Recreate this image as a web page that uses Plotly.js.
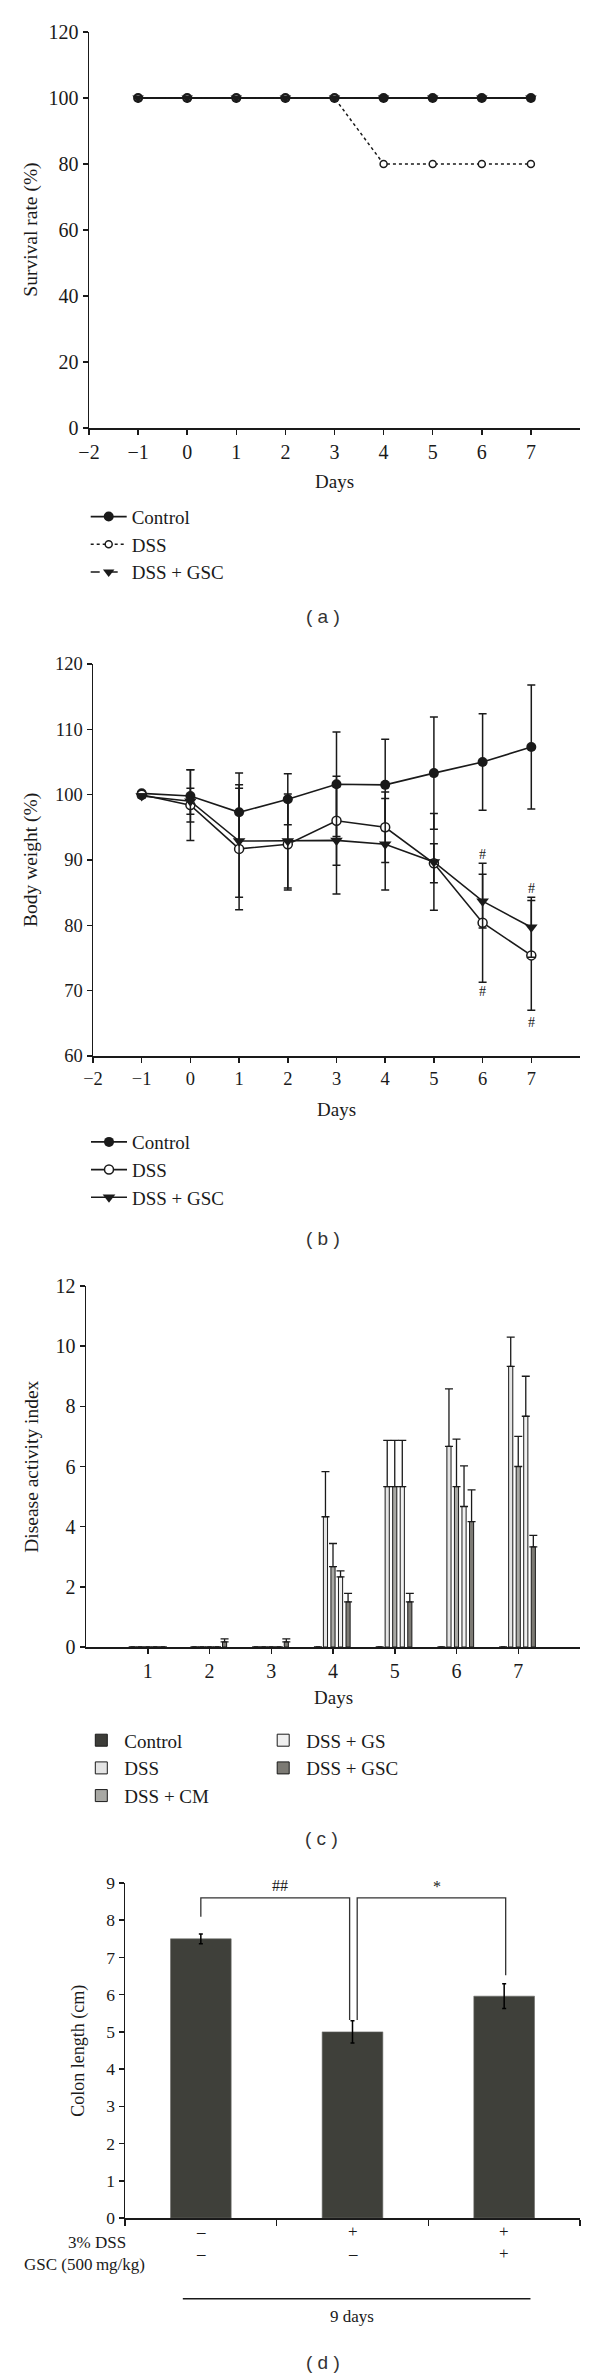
<!DOCTYPE html>
<html><head><meta charset="utf-8">
<script src="https://cdn.plot.ly/plotly-3.0.1.min.js"></script>
<style>
html,body{margin:0;padding:0;background:#fff;width:600px;height:2379px;overflow:hidden}
.p{position:absolute;left:0;width:600px}
</style></head><body>
<div id="pa" class="p" style="top:0;height:640px"></div>
<div id="pb" class="p" style="top:640px;height:620px"></div>
<div id="pc" class="p" style="top:1260px;height:600px"></div>
<div id="pd" class="p" style="top:1860px;height:519px"></div>
<script>
// ---------- DATA ----------
const days = [-1, 0, 1, 2, 3, 4, 5, 6, 7];
const dayTickVals = [-2, -1, 0, 1, 2, 3, 4, 5, 6, 7];
const dayTickText = ['\u22122', '\u22121', '0', '1', '2', '3', '4', '5', '6', '7'];

// (a) survival rate (%)
const survivalControl = [100, 100, 100, 100, 100, 100, 100, 100, 100];
const survivalDSS     = [100, 100, 100, 100, 100, 80, 80, 80, 80];
const survivalGSC     = [100, 100, 100, 100, 100, 100, 100, 100, 100];

// (b) body weight (%)
const weightControl   = [100.2, 99.8, 97.3, 99.3, 101.6, 101.5, 103.3, 105.0, 107.3];
const weightControlSD = [0.3, 4.0, 6.0, 3.9, 8.0, 7.0, 8.6, 7.4, 9.5];
const weightDSS       = [100.0, 98.4, 91.7, 92.4, 96.0, 95.0, 89.5, 80.4, 75.4];
const weightDSSSD     = [0.3, 5.4, 9.3, 7.0, 6.8, 5.4, 3.0, 9.1, 8.4];
const weightGSC       = [99.8, 99.0, 92.9, 92.9, 93.0, 92.4, 89.7, 83.7, 79.7];
const weightGSCSD     = [0.3, 2.0, 8.6, 7.2, 8.2, 7.0, 7.4, 4.1, 4.6];
const hashMarks = [{day: 6, y: 90.8}, {day: 6, y: 69.8}, {day: 7, y: 85.6}, {day: 7, y: 65.1}];

// (c) disease activity index
const daiDays = [1, 2, 3, 4, 5, 6, 7];
const daiControl    = [0, 0, 0, 0, 0, 0, 0];
const daiControlSD  = [0, 0, 0, 0, 0, 0, 0];
const daiDSS        = [0, 0, 0, 4.33, 5.33, 6.67, 9.33];
const daiDSSSD      = [0, 0, 0, 1.5, 1.54, 1.91, 0.97];
const daiCM         = [0, 0, 0, 2.67, 5.33, 5.33, 6.0];
const daiCMSD       = [0, 0, 0, 0.77, 1.54, 1.58, 1.0];
const daiGS         = [0, 0, 0, 2.33, 5.33, 4.67, 7.67];
const daiGSSD       = [0, 0, 0, 0.2, 1.54, 1.35, 1.33];
const daiGSC        = [0, 0.17, 0.17, 1.5, 1.5, 4.17, 3.33];
const daiGSCSD      = [0, 0.1, 0.1, 0.28, 0.28, 1.05, 0.38];

// (d) colon length (cm)
const colonGroups = ['Control', 'DSS', 'DSS + GSC'];
const colonLength = [7.5, 5.0, 5.96];
const colonSD     = [0.13, 0.3, 0.33];
const dssRow = ['\u2013', '+', '+'];
const gscRow = ['\u2013', '\u2013', '+'];

// ---------- STYLE ----------
const SERIF = '"Liberation Serif", "Times New Roman", serif';
const SANS = '"Liberation Sans", Arial, sans-serif';
const INK = '#1a1a1a';
const cfg = {staticPlot: true, displayModeBar: false};

function frame(H, m) {
  const pw = 600 - m.l - m.r, ph = H - m.t - m.b;
  return {X: p => (p - m.l) / pw, Y: p => 1 - (p - m.t) / ph};
}
function axis(extra) {
  return Object.assign({
    showline: true, linewidth: 1.5, linecolor: INK, mirror: false,
    ticks: 'outside', ticklen: 5, tickwidth: 1.5, tickcolor: INK,
    showgrid: false, zeroline: false, fixedrange: true,
    tickfont: {family: SERIF, size: 20, color: INK}
  }, extra);
}
function txt(text, x, y, opts) {
  return Object.assign({text: text, x: x, y: y, xref: 'paper', yref: 'paper',
    showarrow: false, xanchor: 'center', yanchor: 'middle',
    font: {family: SERIF, size: 19, color: INK}}, opts || {});
}
function legendBox(x, y, size) {
  return {x: x, y: y, xanchor: 'left', yanchor: 'top', xref: 'paper', yref: 'paper',
    bgcolor: 'rgba(0,0,0,0)', borderwidth: 0, itemwidth: 36, tracegroupgap: 0,
    font: {family: SERIF, size: size || 19, color: INK}};
}

// ---------- (a) ----------
(function () {
  const H = 640, m = {l: 89.3, r: 20, t: 32.3, b: 211.7, pad: 0, autoexpand: false};
  const f = frame(H, m);
  const traces = [
    {x: days, y: survivalControl, name: 'Control', mode: 'lines+markers',
     line: {color: INK, width: 1.8}, marker: {symbol: 'circle', size: 10, color: INK}},
    {x: days, y: survivalDSS, name: 'DSS', mode: 'lines+markers',
     line: {color: INK, width: 1.5, dash: 'dot'},
     marker: {symbol: 'circle', size: 7, color: '#fff', line: {color: INK, width: 1.5}}},
    {x: days, y: survivalGSC, name: 'DSS + GSC', mode: 'lines+markers',
     line: {color: INK, width: 1.6, dash: 'dash'},
     marker: {symbol: 'triangle-down', size: 10, color: INK}}
  ];
  const layout = {
    width: 600, height: H, margin: m, paper_bgcolor: '#fff', plot_bgcolor: 'rgba(0,0,0,0)',
    showlegend: true, legend: legendBox(f.X(86), f.Y(498)),
    xaxis: axis({range: [-2, 8], tickvals: dayTickVals, ticktext: dayTickText}),
    yaxis: axis({range: [0, 120], tickvals: [0, 20, 40, 60, 80, 100, 120]}),
    annotations: [
      txt('Days', f.X(334.7), f.Y(481.7)),
      txt('Survival rate (%)', f.X(31), f.Y(230.3), {textangle: -90, font: {family: SERIF, size: 19.5, color: INK}}),
      txt('( a )', f.X(323), f.Y(616.7), {font: {family: SANS, size: 19, color: '#333'}})
    ]
  };
  Plotly.newPlot('pa', traces, layout, cfg);
})();

// ---------- (b) ----------
(function () {
  const H = 620, m = {l: 93, r: 20, t: 23.9, b: 204.3, pad: 0, autoexpand: false};
  const f = frame(H, m);
  const eb = sd => ({type: 'data', array: sd, visible: true, color: INK, thickness: 1.5, width: 4});
  const traces = [
    {x: days, y: weightControl, name: 'Control', mode: 'lines+markers', error_y: eb(weightControlSD),
     line: {color: INK, width: 1.6}, marker: {symbol: 'circle', size: 10, color: INK}},
    {x: days, y: weightDSS, name: 'DSS', mode: 'lines+markers', error_y: eb(weightDSSSD),
     line: {color: INK, width: 1.6},
     marker: {symbol: 'circle', size: 9, color: '#fff', line: {color: INK, width: 1.5}}},
    {x: days, y: weightGSC, name: 'DSS + GSC', mode: 'lines+markers', error_y: eb(weightGSCSD),
     line: {color: INK, width: 1.6}, marker: {symbol: 'triangle-down', size: 11, color: INK}}
  ];
  const ann = [
    txt('Days', f.X(336.5), f.Y(469.3)),
    txt('Body weight (%)', f.X(31), f.Y(219.8), {textangle: -90, font: {family: SERIF, size: 19.5, color: INK}}),
    txt('( b )', f.X(323), f.Y(598.3), {font: {family: SANS, size: 19, color: '#333'}})
  ];
  hashMarks.forEach(h => ann.push({text: '#', x: h.day, y: h.y, xref: 'x', yref: 'y', showarrow: false,
    font: {family: SERIF, size: 14, color: INK}}));
  const layout = {
    width: 600, height: H, margin: m, paper_bgcolor: '#fff', plot_bgcolor: 'rgba(0,0,0,0)',
    showlegend: true, legend: legendBox(f.X(86), f.Y(482.7)),
    xaxis: axis({range: [-2, 8], tickvals: dayTickVals, ticktext: dayTickText, tickfont: {family: SERIF, size: 18.5, color: INK}}),
    yaxis: axis({range: [60, 120], tickvals: [60, 70, 80, 90, 100, 110, 120], tickfont: {family: SERIF, size: 18.5, color: INK}}),
    annotations: ann
  };
  Plotly.newPlot('pb', traces, layout, cfg);
})();

// ---------- (c) ----------
(function () {
  const H = 600, m = {l: 85.7, r: 20, t: 25.9, b: 213.3, pad: 0, autoexpand: false};
  const f = frame(H, m);
  const eb = sd => ({type: 'data', symmetric: false, array: sd.map(v => v > 0 ? v : NaN),
    arrayminus: sd.map(() => 0), visible: true, color: INK, thickness: 1.3, width: 4});
  const bar = (y, sd, name, color, leg) => ({type: 'bar', x: daiDays, y: y, name: name, legend: leg,
    marker: {color: color, line: {color: INK, width: 1}}, error_y: eb(sd)});
  const traces = [
    bar(daiControl, daiControlSD, 'Control', '#3c3c38', 'legend'),
    bar(daiDSS, daiDSSSD, 'DSS', '#e4e4e4', 'legend'),
    bar(daiCM, daiCMSD, 'DSS + CM', '#a8a8a4', 'legend'),
    bar(daiGS, daiGSSD, 'DSS + GS', '#f0f0f0', 'legend2'),
    bar(daiGSC, daiGSCSD, 'DSS + GSC', '#7c7a74', 'legend2')
  ];
  const layout = {
    width: 600, height: H, margin: m, paper_bgcolor: '#fff', plot_bgcolor: 'rgba(0,0,0,0)',
    barmode: 'group', bargap: 0.39, bargroupgap: 0.45,
    showlegend: true,
    legend: legendBox(f.X(78), f.Y(461)),
    legend2: legendBox(f.X(260), f.Y(461)),
    xaxis: axis({range: [0, 8], tickvals: [1, 2, 3, 4, 5, 6, 7]}),
    yaxis: axis({range: [0, 12], tickvals: [0, 2, 4, 6, 8, 10, 12]}),
    annotations: [
      txt('Days', f.X(333), f.Y(437)),
      txt('Disease activity index', f.X(31), f.Y(206.3), {textangle: -90, font: {family: SERIF, size: 19.5, color: INK}}),
      txt('( c )', f.X(321), f.Y(578), {font: {family: SANS, size: 19, color: '#333'}})
    ]
  };
  Plotly.newPlot('pc', traces, layout, cfg);
})();

// ---------- (d) ----------
(function () {
  const H = 519, m = {l: 125.2, r: 20, t: 22.6, b: 160.7, pad: 0, autoexpand: false};
  const f = frame(H, m);
  const small = {family: SERIF, size: 17, color: INK};
  const traces = [{
    type: 'bar', x: colonGroups, y: colonLength, showlegend: false,
    marker: {color: '#3f403a', line: {color: '#6a6a66', width: 0.6}},
    error_y: {type: 'data', array: colonSD, visible: true, color: '#000', thickness: 1.5, width: 2}
  }];
  const ann = [
    txt('Colon length (cm)', f.X(78.5), f.Y(190.5), {textangle: -90, font: {family: SERIF, size: 18, color: INK}}),
    txt('3% DSS', f.X(128.3), f.Y(383.3), {xanchor: 'right', font: small}),
    txt('GSC (500\u2009mg/kg)', f.X(147.5), f.Y(405), {xanchor: 'right', font: small}),
    txt('9 days', f.X(352.4), f.Y(456.7), {font: small}),
    txt('( d )', f.X(323), f.Y(502.7), {font: {family: SANS, size: 19, color: '#333'}}),
    {text: '##', x: 0.52, y: 8.92, xref: 'x', yref: 'y', showarrow: false, font: {family: SERIF, size: 16, color: INK}},
    {text: '*', x: 1.56, y: 8.9, xref: 'x', yref: 'y', showarrow: false, font: {family: SERIF, size: 16, color: INK}}
  ];
  colonGroups.forEach((g, i) => {
    ann.push({text: dssRow[i], x: i, y: f.Y(383.3), xref: 'x', yref: 'paper', showarrow: false, font: small});
    ann.push({text: gscRow[i], x: i, y: f.Y(405), xref: 'x', yref: 'paper', showarrow: false, font: small});
  });
  const ln = {color: '#333', width: 1.3};
  const layout = {
    width: 600, height: H, margin: m, paper_bgcolor: '#fff', plot_bgcolor: 'rgba(0,0,0,0)',
    bargap: 0.6, showlegend: false,
    xaxis: axis({type: 'category', categoryarray: colonGroups, range: [-0.5, 2.5],
      tickson: 'boundaries', ticklen: 6, showticklabels: false}),
    yaxis: axis({range: [0, 9], tickvals: [0, 1, 2, 3, 4, 5, 6, 7, 8, 9], tickfont: {family: SERIF, size: 17.5, color: INK}}),
    annotations: ann,
    shapes: [
      {type: 'path', xref: 'x', yref: 'y', path: 'M0,8.09 L0,8.6 L0.981,8.6 L0.981,5.32', line: ln},
      {type: 'path', xref: 'x', yref: 'y', path: 'M1.031,5.32 L1.031,8.6 L2.01,8.6 L2.01,6.52', line: ln},
      {type: 'line', xref: 'paper', yref: 'paper', x0: f.X(183), x1: f.X(530.5), y0: f.Y(439.3), y1: f.Y(439.3),
       line: {color: INK, width: 1.5}}
    ]
  };
  Plotly.newPlot('pd', traces, layout, cfg);
})();
</script>
</body></html>
